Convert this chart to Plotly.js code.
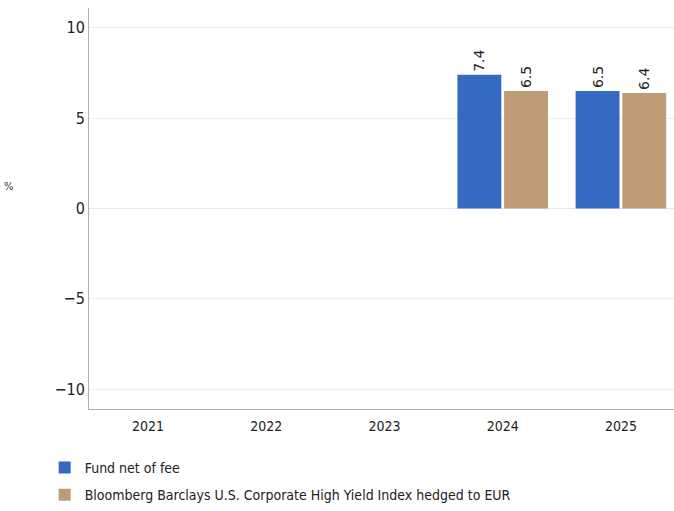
<!DOCTYPE html>
<html>
<head>
<meta charset="utf-8">
<script src="https://cdn.plot.ly/plotly-3.0.1.min.js"></script>
<style>html,body{margin:0;padding:0;overflow:hidden;background:#fff}</style>
</head>
<body>
<div id="chart" style="width:680px;height:511px"></div>
<script>
const years = ["2021", "2022", "2023", "2024", "2025"];
const fundName = "Fund net of fee";
const fundValues = [null, null, null, 7.4, 6.5];
const indexName = "Bloomberg Barclays U.S. Corporate High Yield Index hedged to EUR";
const indexValues = [null, null, null, 6.5, 6.4];
const yTicks = [-10, -5, 0, 5, 10];
const yTickLabels = ["\u221210", "\u22125", "0", "5", "10"];

const narrow = "'DejaVu Sans Condensed', sans-serif";
const labelFont = {family: "DejaVu Sans", size: 14, color: "#222222"};
function labels(v) { return v.map(x => x === null ? "" : x.toFixed(1)); }

const traces = [
  {type: "bar", name: fundName, legendgroup: "fund", x: years, y: fundValues, text: labels(fundValues),
   textposition: "outside", textangle: -90, textfont: labelFont, cliponaxis: false,
   constraintext: "none", marker: {color: "#3469C4"}, hoverinfo: "x+y"},
  {type: "bar", name: indexName, legendgroup: "index", x: years, y: indexValues, text: labels(indexValues),
   textposition: "outside", textangle: -90, textfont: labelFont, cliponaxis: false,
   constraintext: "none", marker: {color: "#BF9C75"}, hoverinfo: "x+y"}
];

const layout = {
  width: 680, height: 511,
  margin: {l: 89, r: 0, t: 8, b: 102, pad: 0},
  paper_bgcolor: "#ffffff", plot_bgcolor: "#ffffff",
  barmode: "group", bargap: 0.21, bargroupgap: 0.06,
  font: {family: narrow, size: 14, color: "#222222"},
  showlegend: true,
  legend: {orientation: "v", x: -0.075, xanchor: "left", y: -0.108, yanchor: "top",
           font: {family: narrow, size: 14, color: "#222222"},
           tracegroupgap: 6, traceorder: "grouped"},
  xaxis: {type: "category", showgrid: false, showline: true, linecolor: "#b0b0b0", linewidth: 1,
          ticks: "", ticklabelstandoff: 4, tickfont: {family: narrow, size: 14, color: "#222222"},
          fixedrange: true},
  yaxis: {range: [-11.1, 11.1], tickvals: yTicks, ticktext: yTickLabels, showgrid: true,
          gridcolor: "#eeeeee", zeroline: true, zerolinecolor: "#e3e7f3", zerolinewidth: 1,
          showline: true, linecolor: "#b0b0b0", linewidth: 1, ticks: "",
          tickfont: {family: narrow, size: 16, color: "#222222"}, fixedrange: true},
  annotations: [{text: "%", xref: "paper", yref: "paper", x: -0.135, y: 0.555,
                 xanchor: "center", yanchor: "middle", showarrow: false,
                 font: {family: "DejaVu Sans", size: 10, color: "#333333"}}]
};

Plotly.newPlot("chart", traces, layout, {displayModeBar: false, staticPlot: true});
</script>
</body>
</html>
